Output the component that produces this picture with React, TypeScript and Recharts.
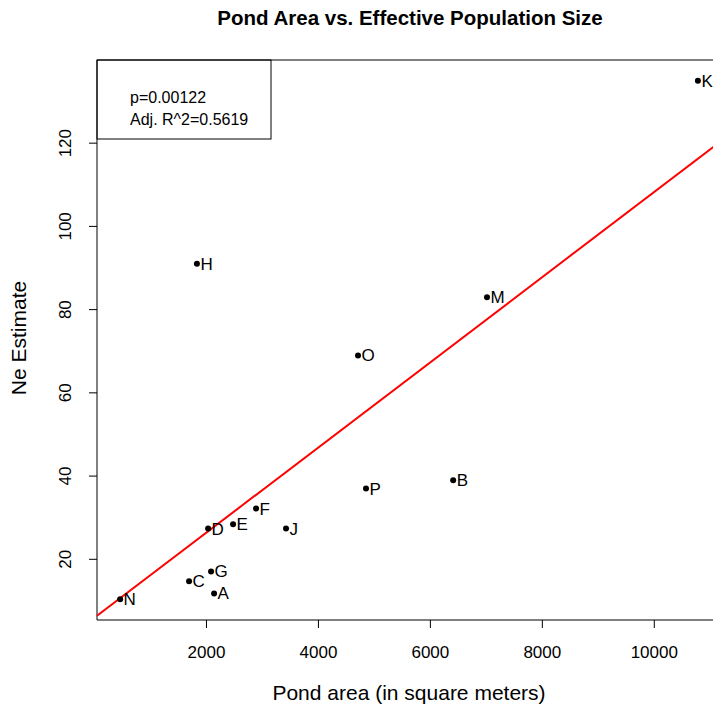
import { ReferenceArea, ReferenceLine, Scatter, ScatterChart, XAxis, YAxis, ZAxis, LabelList } from 'recharts';

// pond labels, surface area (m^2) and Ne estimates
const ponds = ['N', 'C', 'H', 'D', 'G', 'A', 'E', 'F', 'J', 'O', 'P', 'B', 'M', 'K'];
const pondArea = [457, 1689, 1829, 2029, 2082, 2136, 2475, 2886, 3421, 4707, 4850, 6407, 7011, 10779];
const neEstimate = [10.4, 14.7, 91, 27.4, 17.1, 11.8, 28.4, 32.2, 27.4, 69, 37, 39, 83, 135];

const xTicks = [2000, 4000, 6000, 8000, 10000];
const yTicks = [20, 40, 60, 80, 100, 120];
const statLines = ['p=0.00122', 'Adj. R^2=0.5619'];

const data = ponds.map((name, i) => ({ name, area: pondArea[i], ne: neEstimate[i] }));

// ordinary least squares fit of Ne on area
const n = pondArea.length;
const mx = pondArea.reduce((a, b) => a + b, 0) / n;
const my = neEstimate.reduce((a, b) => a + b, 0) / n;
let sxy = 0;
let sxx = 0;
pondArea.forEach((x, i) => {
  sxy += (x - mx) * (neEstimate[i] - my);
  sxx += (x - mx) * (x - mx);
});
const slope = sxy / sxx;
const intercept = my - slope * mx;

// base-graphics style 4% padding around the data range
const pad = (vals: number[]): [number, number] => {
  const lo = Math.min(...vals);
  const hi = Math.max(...vals);
  const r = (hi - lo) * 0.04;
  return [lo - r, hi + r];
};
const xDom = pad(pondArea);
const yDom = pad(neEstimate);

const FONT = '"Liberation Sans", Arial, Helvetica, sans-serif';

const XTick = ({ x, y, payload }: any) => (
  <text x={x} y={y + 30} textAnchor="middle" fontSize={17} fill="#000" fontFamily={FONT}>
    {payload.value}
  </text>
);

const YTick = ({ x, y, payload }: any) => (
  <text
    x={x - 18}
    y={y}
    textAnchor="middle"
    fontSize={17}
    fill="#000"
    fontFamily={FONT}
    transform={`rotate(-90, ${x - 18}, ${y})`}
  >
    {payload.value}
  </text>
);

const Dot = ({ cx, cy }: any) => <circle cx={cx} cy={cy} r={3} fill="#000" />;

export default function App() {
  return (
    <div style={{ position: 'absolute', left: 0, top: 0, width: 713, height: 710, overflow: 'hidden', background: '#fff' }}>
      <ScatterChart width={730} height={710} margin={{ top: 60, right: 9, bottom: 50, left: 37 }} style={{ fontFamily: FONT }}>
        <XAxis
          type="number"
          dataKey="area"
          domain={xDom}
          allowDataOverflow
          ticks={xTicks}
          tick={<XTick />}
          tickSize={8}
          tickMargin={0}
          tickLine={{ stroke: '#000' }}
          axisLine={false}
          height={40}
        />
        <YAxis
          type="number"
          dataKey="ne"
          domain={yDom}
          allowDataOverflow
          ticks={yTicks}
          tick={<YTick />}
          tickSize={8}
          tickMargin={0}
          tickLine={{ stroke: '#000' }}
          axisLine={false}
          width={60}
        />
        <ZAxis range={[30, 30]} />
        <ReferenceArea x1={xDom[0]} x2={xDom[1]} y1={yDom[0]} y2={yDom[1]} fill="none" stroke="#000" strokeWidth={1} fillOpacity={0} />
        <ReferenceLine
          segment={[
            { x: xDom[0], y: intercept + slope * xDom[0] },
            { x: xDom[1], y: intercept + slope * xDom[1] },
          ]}
          stroke="#ff0000"
          strokeWidth={2}
        />
        <Scatter data={data} shape={<Dot />} isAnimationActive={false}>
          <LabelList dataKey="name" position="right" offset={-1} fill="#000" fontSize={17} fontFamily={FONT} />
        </Scatter>
        <rect x={97} y={60} width={174} height={79} fill="#fff" stroke="#000" strokeWidth={1} />
        {statLines.map((t, i) => (
          <text key={t} x={130} y={103 + i * 22} fontSize={16} fill="#000" fontFamily={FONT}>
            {t}
          </text>
        ))}
        <text x={410} y={25} textAnchor="middle" fontSize={20.5} fontWeight="bold" fill="#000" fontFamily={FONT}>
          Pond Area vs. Effective Population Size
        </text>
        <text x={409} y={700} textAnchor="middle" fontSize={21} fill="#000" fontFamily={FONT}>
          Pond area (in square meters)
        </text>
        <text x={25.5} y={338} textAnchor="middle" fontSize={21} fill="#000" fontFamily={FONT} transform="rotate(-90, 25.5, 338)">
          Ne Estimate
        </text>
      </ScatterChart>
    </div>
  );
}
